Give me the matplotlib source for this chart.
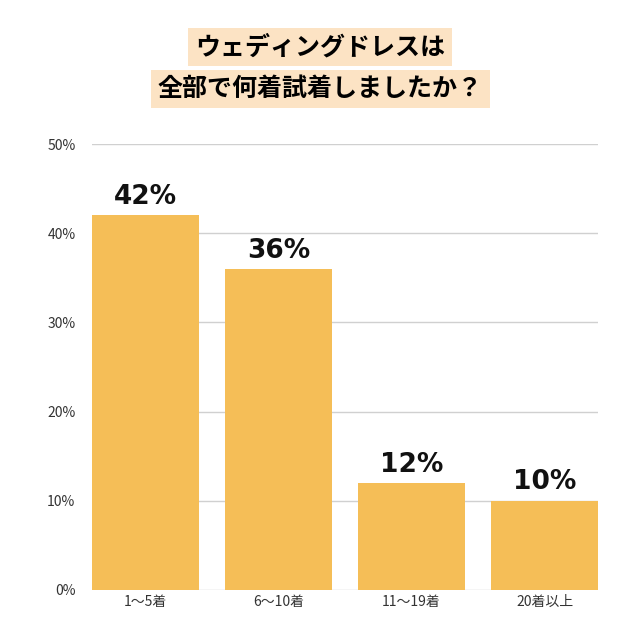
import matplotlib
matplotlib.use("Agg")
import matplotlib.pyplot as plt

categories = ["1～5着", "6～10着", "11～19着", "20着以上"]
values = [42, 36, 12, 10]
yticks = [0, 10, 20, 30, 40, 50]

plt.rcParams["font.family"] = "Noto Sans CJK JP"
fig = plt.figure(figsize=(6.4, 6.24), dpi=100)
ax = fig.add_axes([0.144, 0.0545, 0.79, 0.7145])
x = range(len(categories))
ax.bar(x, values, width=0.8, color="#F5BE57", zorder=2)
for i, v in zip(x, values):
    ax.text(i, v + 0.6, f"{v}%", ha="center", va="bottom", fontsize=19,
            fontweight="bold", family="DejaVu Sans", color="#111111")
ax.set_xlim(-0.4, 3.4)
ax.set_ylim(0, 50)
ax.set_yticks(yticks)
ax.set_yticklabels([f"{t}%" for t in yticks])
ax.set_xticks(list(x))
ax.set_xticklabels(categories)
ax.yaxis.grid(True, color="#d0d0d0", linewidth=1, zorder=0)
for s in ax.spines.values():
    s.set_visible(False)
ax.tick_params(length=0, labelsize=10, colors="#333333")
ax.tick_params(axis="y", pad=12)
box = dict(facecolor="#FCE3C4", edgecolor="none", pad=5)
fig.text(0.5, 0.925, "ウェディングドレスは", ha="center", va="center",
         fontsize=18, fontweight="bold", bbox=box)
fig.text(0.5, 0.858, "全部で何着試着しましたか？", ha="center", va="center",
         fontsize=18, fontweight="bold", bbox=box)
fig.savefig("out.png", dpi=100, facecolor="white")
